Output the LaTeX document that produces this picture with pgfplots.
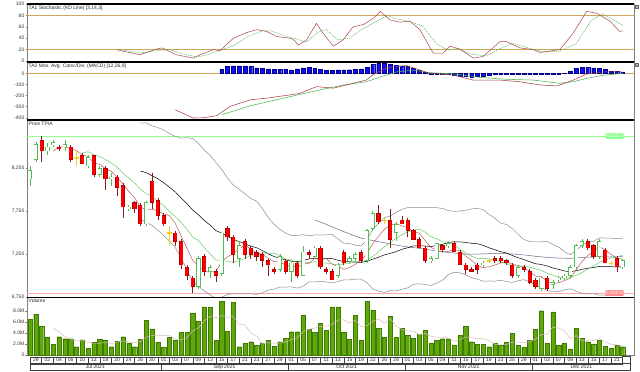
\documentclass[border=0pt]{standalone}
\usepackage{pgfplots}
\pgfplotsset{compat=1.18}
\usepackage{pgfplotstable}
\usepackage{fontspec}
\setmainfont{Liberation Sans}
\newcommand\tfont{\fontsize{5}{6}\selectfont}
\definecolor{cred}{HTML}{FF0000}
\definecolor{credb}{HTML}{B00000}
\definecolor{wred}{HTML}{8B1A1A}
\definecolor{cgrn}{HTML}{4FBF4F}
\definecolor{cyel}{HTML}{F2D01E}
\definecolor{ma5}{HTML}{B84A4A}
\definecolor{ma10}{HTML}{66CC66}
\definecolor{ma50}{HTML}{6B6B8C}
\definecolor{bb}{HTML}{8C8C8C}
\definecolor{lvl}{HTML}{D2A65A}
\definecolor{kline}{HTML}{A8454A}
\definecolor{dline}{HTML}{4DB84D}
\definecolor{hist}{HTML}{1010F0}
\definecolor{histb}{HTML}{000090}
\definecolor{vol}{HTML}{5FA80C}
\definecolor{volb}{HTML}{3E7A00}
\definecolor{volma}{HTML}{D9BDBD}
\definecolor{frame}{HTML}{7F7F7F}

\pgfplotstableread{
x o h l c
2 8575 8625 8325 8450
5 8500 8525 8450 8475
7 8500 8525 8325 8350
9 8400 8425 8300 8300
11 8400 8400 8150 8175
13 8250 8275 8000 8125
15 8150 8175 7925 8025
16 8050 8075 7675 7800
18 7850 7875 7725 7775
19 7825 7850 7575 7600
21 8100 8200 7775 7850
22 7875 7900 7650 7700
23 7700 7725 7575 7600
25 7500 7525 7350 7400
26 7400 7425 7075 7125
27 7100 7125 6950 7000
28 6975 7000 6800 6875
30 7225 7250 7000 7050
32 7050 7075 6925 7000
34 7550 7575 7400 7450
35 7450 7475 7150 7250
37 7400 7425 7200 7250
38 7325 7350 7200 7250
39 7275 7300 7175 7225
40 7250 7275 7100 7175
41 7175 7200 7000 7125
42 7075 7100 7025 7050
44 7175 7200 7025 7050
46 7150 7175 6975 7000
48 7275 7300 7200 7250
50 7325 7350 7075 7100
51 7075 7100 7025 7050
52 7050 7075 6950 6950
54 7275 7300 7125 7150
57 7275 7300 7150 7175
60 7725 7825 7600 7625
62 7650 7775 7325 7425
64 7650 7700 7600 7600
65 7650 7675 7450 7525
66 7525 7550 7425 7425
67 7425 7450 7325 7325
68 7325 7350 7150 7175
71 7350 7375 7275 7300
73 7375 7400 7275 7275
74 7275 7300 7125 7125
75 7125 7150 7025 7075
76 7075 7100 7050 7050
77 7125 7150 7025 7075
80 7200 7225 7150 7175
81 7200 7225 7150 7175
82 7175 7200 7125 7150
83 7125 7150 6975 7000
85 7100 7125 7050 7075
86 7050 7075 6900 6925
87 6950 6975 6850 6875
89 6975 7000 6825 6850
96 7400 7425 7300 7325
97 7350 7375 7200 7225
99 7300 7325 7150 7150
101 7200 7225 7050 7100
}\redc

\pgfplotstableread{
x o h l c
0 8125 8275 8050 8225
1 8350 8550 8325 8525
3 8450 8550 8400 8500
4 8525 8575 8500 8550
6 8500 8575 8450 8525
10 8275 8400 8250 8375
12 8175 8275 8150 8250
14 8125 8200 8050 8150
17 7775 7825 7750 7800
20 7600 7875 7575 7850
29 6875 7225 6850 7200
31 7050 7125 6975 7100
33 7025 7500 7000 7500
36 7200 7400 7100 7350
43 7075 7250 7050 7225
45 7050 7175 6925 7150
47 7000 7350 7000 7275
49 7225 7350 7200 7325
53 7000 7150 6975 7125
55 7175 7225 7150 7200
56 7200 7275 7175 7250
58 7175 7550 7150 7525
59 7550 7750 7525 7725
63 7500 7625 7400 7600
69 7175 7225 7150 7200
70 7200 7375 7200 7375
72 7350 7400 7325 7375
78 7125 7175 7100 7150
84 7000 7125 6975 7100
88 6850 7000 6825 6975
90 6900 6950 6850 6925
91 6950 7000 6925 6975
92 6975 7025 6950 7000
93 7000 7125 6975 7100
94 7100 7375 7075 7350
95 7350 7425 7325 7400
98 7225 7425 7200 7400
102 7100 7200 7075 7175
}\grnc

\pgfplotstableread{
x o h l c
8 8375 8450 8275 8375
24 7500 7575 7350 7500
61 7650 7675 7600 7650
79 7175 7200 7150 7175
100 7150 7175 7125 7150
}\dojc

\pgfplotstableread{
x m
4 8450
5 8500
6 8500
7 8480
8 8455
9 8405
10 8385
11 8315
12 8295
13 8245
14 8215
15 8145
16 8070
17 7980
18 7910
19 7800
20 7765
21 7775
22 7755
23 7720
24 7700
25 7610
26 7465
27 7325
28 7180
29 7120
30 7050
31 7045
32 7045
33 7170
34 7220
35 7260
36 7310
37 7360
38 7310
39 7265
40 7250
41 7205
42 7165
43 7160
44 7125
45 7120
46 7095
47 7140
48 7145
49 7200
50 7190
51 7200
52 7135
53 7110
54 7075
55 7095
56 7135
57 7180
58 7260
59 7375
60 7460
61 7540
62 7590
63 7605
64 7580
65 7560
66 7515
67 7495
68 7410
69 7330
70 7300
71 7275
72 7285
73 7305
74 7290
75 7230
76 7180
77 7120
78 7095
79 7105
80 7125
81 7150
82 7165
83 7135
84 7120
85 7100
86 7050
87 6995
88 6990
89 6940
90 6910
91 6920
92 6945
93 6970
94 7070
95 7165
96 7235
97 7280
98 7340
99 7300
100 7250
101 7205
102 7195
}\mafive

\pgfplotstableread{
x m
9 8428
10 8443
11 8408
12 8388
13 8350
14 8310
15 8265
16 8193
17 8138
18 8078
19 8008
20 7955
21 7923
22 7868
23 7815
24 7750
25 7688
26 7620
27 7540
28 7450
29 7410
30 7330
31 7255
32 7185
33 7175
34 7170
35 7155
36 7178
37 7203
38 7240
39 7243
40 7255
41 7258
42 7263
43 7235
44 7195
45 7185
46 7150
47 7153
48 7153
49 7163
50 7155
51 7148
52 7138
53 7128
54 7138
55 7143
56 7168
57 7158
58 7185
59 7225
60 7278
61 7338
62 7385
63 7433
64 7478
65 7510
66 7528
67 7543
68 7508
69 7455
70 7430
71 7395
72 7390
73 7358
74 7310
75 7265
76 7228
77 7203
78 7200
79 7198
80 7178
81 7165
82 7143
83 7115
84 7113
85 7113
86 7100
87 7080
88 7063
89 7030
90 7005
91 6985
92 6970
93 6980
94 7005
95 7038
96 7078
97 7113
98 7155
99 7185
100 7208
101 7220
102 7238
}\maten

\pgfplotstableread{
x m u l
19 8218 8775 7660
20 8199 8779 7619
21 8165 8743 7587
22 8128 8724 7531
23 8083 8696 7469
24 8030 8654 7406
25 7976 8622 7330
26 7906 8600 7212
27 7839 8606 7071
28 7764 8597 6930
29 7709 8539 6879
30 7643 8461 6825
31 7589 8401 6777
32 7526 8317 6735
33 7495 8237 6753
34 7460 8138 6782
35 7421 8053 6790
36 7399 8007 6791
37 7371 7953 6790
38 7345 7898 6792
39 7326 7869 6783
40 7293 7782 6803
41 7256 7678 6834
42 7224 7602 6846
43 7205 7541 6869
44 7183 7496 6869
45 7170 7468 6872
46 7164 7470 6857
47 7178 7478 6877
48 7196 7464 6929
49 7203 7476 6929
50 7205 7474 6936
51 7203 7476 6929
52 7200 7482 6918
53 7181 7428 6934
54 7166 7380 6952
55 7164 7375 6953
56 7159 7356 6961
57 7155 7348 6962
58 7169 7418 6919
59 7194 7542 6846
60 7216 7611 6821
61 7243 7678 6807
62 7261 7694 6829
63 7280 7737 6823
64 7308 7772 6844
65 7326 7794 6859
66 7348 7792 6903
67 7350 7793 6907
68 7346 7794 6899
69 7340 7792 6888
70 7354 7792 6915
71 7366 7783 6949
72 7388 7758 7017
73 7395 7750 7040
74 7394 7752 7035
75 7388 7763 7012
76 7378 7777 6978
77 7373 7784 6961
78 7354 7770 6937
79 7326 7713 6940
80 7304 7670 6938
81 7280 7613 6947
82 7266 7597 6935
83 7236 7549 6923
84 7211 7481 6942
85 7189 7423 6955
86 7164 7398 6930
87 7141 7395 6888
88 7131 7395 6868
89 7114 7402 6826
90 7091 7364 6819
91 7075 7334 6816
92 7056 7278 6835
93 7048 7246 6849
94 7059 7296 6822
95 7075 7355 6795
96 7089 7389 6789
97 7096 7402 6791
98 7109 7441 6776
99 7108 7439 6776
100 7106 7437 6776
101 7103 7432 6773
102 7104 7434 6774
}\matwenty

\pgfplotstableread{
x m
49 7650
51 7598
53 7541
55 7487
57 7438
59 7410
61 7384
63 7357
65 7336
67 7319
69 7299
71 7279
73 7266
75 7252
77 7252
79 7257
81 7261
83 7254
85 7243
87 7227
89 7214
91 7206
93 7203
95 7214
97 7219
99 7219
101 7221
102 7225
}\mafifty

\pgfplotstableread{
x v
0 6.44
1 7.4
2 5.2
3 3.2
4 1.9
5 3.3
6 2.95
7 2.95
8 1.5
9 2.77
10 1.2
11 2.3
12 2.8
13 2.6
14 1.5
15 2.5
16 3.3
17 2.2
18 1.5
19 2.8
20 6.3
21 4.7
22 2.3
23 1.4
24 3.2
25 2.6
26 4.15
27 4.15
28 7.6
29 6.1
30 8.7
31 8.6
32 2.6
33 9.7
34 4.3
35 9.5
36 1.5
37 2.1
38 2.4
39 1.8
40 2.2
41 2.7
42 1.6
43 2.4
44 3.0
45 4.2
46 4.2
47 7.2
48 4.6
49 4.1
50 5.7
51 4.5
52 8.6
53 8.7
54 4.15
55 2.8
56 7.2
57 2.7
58 9.7
59 8.1
60 4.8
61 3.2
62 7.0
63 3.2
64 4.8
65 3.5
66 3.0
67 3.7
68 4.5
69 2.2
70 2.7
71 2.95
72 2.95
73 1.7
74 3.5
75 5.2
76 2.4
77 1.9
78 1.9
79 1.5
80 2.1
81 1.7
82 2.3
83 3.9
84 1.7
85 1.4
86 2.7
87 4.6
88 8.0
89 2.1
90 7.8
91 1.8
92 2.1
93 1.1
94 4.8
95 3.0
96 2.4
97 2.0
98 2.6
99 1.6
100 1.2
101 1.7
102 1.5
}\volume

\pgfplotstableread{
x v
4 4.83
5 4.20
6 3.31
7 2.86
8 2.52
9 2.69
10 2.27
11 2.14
12 2.11
13 2.33
14 2.08
15 2.34
16 2.54
17 2.42
18 2.20
19 2.46
20 3.22
21 3.50
22 3.52
23 3.50
24 3.58
25 2.84
26 2.73
27 3.10
28 4.34
29 4.92
30 6.14
31 7.03
32 6.72
33 7.14
34 6.78
35 6.94
36 5.52
37 5.42
38 3.96
39 3.46
40 2.00
41 2.24
42 2.14
43 2.14
44 2.38
45 2.78
46 3.08
47 4.20
48 4.64
49 4.86
50 5.16
51 5.22
52 5.50
53 6.32
54 6.33
55 5.75
56 6.29
57 5.11
58 5.31
59 6.10
60 6.50
61 5.70
62 6.56
63 5.26
64 4.60
65 4.34
66 4.30
67 3.64
68 3.90
69 3.38
70 3.22
71 3.21
72 3.06
73 2.50
74 2.76
75 3.26
76 3.15
77 2.94
78 2.98
79 2.58
80 1.96
81 1.82
82 1.90
83 2.30
84 2.34
85 2.20
86 2.40
87 2.86
88 3.68
89 3.76
90 5.04
91 4.86
92 4.36
93 2.98
94 3.52
95 2.56
96 2.68
97 2.66
98 2.96
99 2.32
100 1.96
101 1.82
102 1.72
}\volma

\pgfplotstableread{
x k
14.9 19.8
18.9 11
21.8 21
22.7 23
25.2 11
28.1 5
29.3 11
31.6 20
32.7 18
35 40
37.3 50
39 55
40.7 52
42.5 43
44.7 40
45.3 38
46.2 28
47.6 37
49.3 66
50.2 52
52.2 26
53.9 37
55.6 60
57.4 64
59.1 75
60.3 87
62 72
63.7 68
65.4 70
67.1 55
69.4 14
71.1 14
72.3 26
74 21
76.3 5
78 8
80.9 34
82 34
84.3 23
86.6 20
87.8 15
91.2 20
93.5 49
95.8 87
97.5 84
99.8 70
101.5 52
102.1 53
}\stochk

\pgfplotstableread{
x d
15.5 20
19 14
22.5 19
24 20
26 13
28.8 7
30.5 11
32.5 18
35 27
37.5 43
40 53
41.5 53
43.5 45
45.5 40
47.5 33
49.8 52
51 55
53 37
55 40
57 55
59 66
61.5 80
63 74
65 70
67.5 62
70 30
72 19
73.5 22
76 12
78.5 9
81 22
83 31
85 25
88 17
91 17
94 30
96.5 70
98.5 83
100.5 72
102.1 62
}\stochd

\pgfplotstableread{
x m
25 -329
28.1 -403
30 -400
32.1 -382
34.4 -299
37.9 -239
40.7 -224
44.7 -195
46.5 -180
49.3 -120
52.2 -134
55.6 -90
57.9 -60
59.1 -10
61.4 50
64.8 70
67.1 29
68.8 0
72.9 -16
76.3 -61
80.9 -61
84.3 -76
87.8 -105
90.7 -114
93.5 -61
95.8 -7
98.7 13
102.1 13
}\macdl

\pgfplotstableread{
x s
33 -373
37.9 -293
43.6 -224
49.9 -150
54 -105
57.9 -76
60.5 -30
63.1 13
66 29
68.8 6
72.9 -5
77.5 -37
82 -54
86.6 -61
91.2 -90
93.5 -76
95.8 -46
98.7 -17
102.1 0
}\macds

\pgfplotstableread{
x h
33 35
34 62
35 66
36 68
37 68
38 62
39 50
40 42
41 40
42 38
43 38
44 36
45 30
46 40
47 50
48 52
49 45
50 35
51 28
52 28
53 30
54 30
55 32
56 35
57 40
58 55
59 78
60 88
61 90
62 78
63 70
64 68
65 60
66 45
67 30
68 8
69 -10
70 -10
71 -12
72 -12
73 -15
74 -25
75 -30
76 -32
77 -30
78 -25
79 -20
80 -8
81 -8
82 -8
83 -8
84 -10
85 -12
86 -10
87 -8
88 -10
89 -12
90 -10
91 -8
92 -3
93 15
94 45
95 55
96 52
97 48
98 45
99 38
100 20
101 15
102 10
}\macdh

\tikzset{ptitle/.style={anchor=north west, font=\tfont, inner sep=1.5pt, text=black!85}}
\pgfplotsset{
  panel/.style={scale only axis, width=607pt, xmin=-0.516, xmax=103.96,
    axis line style={draw=frame, line width=0.5pt},
    xtick=\empty, ytick pos=left, tick align=outside,
    major tick length=1.5pt, tick style={draw=frame, line width=0.4pt},
    yticklabel style={font=\tfont, text=black!80, inner sep=1pt},
    clip mode=individual},
  wick/.style={only marks, mark=*, mark size=0pt,
    mark options={draw opacity=0, fill opacity=0}, forget plot,
    error bars/.cd, y dir=both, y explicit, error mark=none,
    error bar style={draw=#1, line width=0.6pt}},
  body/.style 2 args={only marks, mark=*, mark size=0pt,
    mark options={draw opacity=0, fill opacity=0}, forget plot,
    error bars/.cd, y dir=both, y explicit, error mark=none,
    error bar style={draw=#1, line width=#2}},
}

\begin{document}
\begin{tikzpicture}
\path[use as bounding box, fill=white] (0pt,0pt) rectangle (640pt,-372pt);

% ---------------- Stochastic
\begin{axis}[panel, at={(27pt,-4pt)}, anchor=north west, height=57.7pt,
  ymin=-1.2, ymax=100, ytick={0,20,40,60,80,100}, yticklabels={0,20,40,60,80,100}]
\addplot[lvl, line width=0.6pt] coordinates {(-1,80) (105,80)};
\addplot[lvl, line width=0.6pt] coordinates {(-1,20) (105,20)};
\addplot[dline, line width=0.5pt, dash pattern=on 1.2pt off 0.9pt] table[x=x,y=d] {\stochd};
\addplot[kline, line width=0.5pt] table[x=x,y=k] {\stochk};
\node[ptitle] at (rel axis cs:0,1) {TA1 Stochastic (KD Line) [3,14,3]};
\end{axis}

% ---------------- MACD
\begin{axis}[panel, at={(27pt,-62pt)}, anchor=north west, height=58pt,
  ymin=-420.7, ymax=101.8, ytick={-400,-300,-200,-100,0},
  yticklabels={-400,-300,-200,-100,0}]
\addplot[lvl, line width=0.6pt] coordinates {(-1,0) (105,0)};
\addplot[ybar, bar width=3.8pt, fill=hist, draw=histb, line width=0.3pt] table[x=x,y=h] {\macdh};
\addplot[dline, line width=0.55pt] table[x=x,y=s] {\macds};
\addplot[kline, line width=0.55pt] table[x=x,y=m] {\macdl};
\node[ptitle] at (rel axis cs:0,1) {TA2 Mov. Avg. Conv./Div. (MACD) [12,26,9]};
\end{axis}

% ---------------- Price
\begin{axis}[panel, at={(27pt,-120pt)}, anchor=north west, height=177.3pt,
  ymin=6750, ymax=8811.6, ytick={6750,7250,7750,8250},
  yticklabels={{6,750},{7,250},{7,750},{8,250}}]
\addplot[color=green!45!white, line width=0.5pt] coordinates {(-1,8625) (105,8625)};
\addplot[color=red!35!white, line width=0.8pt] coordinates {(-1,6800) (105,6800)};
\addplot[bb, line width=0.5pt] table[x=x,y=u] {\matwenty};
\addplot[bb, line width=0.5pt] table[x=x,y=l] {\matwenty};
\addplot[ma50, line width=0.5pt] table[x=x,y=m] {\mafifty};
\addplot[black, line width=0.5pt] table[x=x,y=m] {\matwenty};
\addplot[ma10, line width=0.5pt] table[x=x,y=m] {\maten};
\addplot[ma5, line width=0.45pt] table[x=x,y=m] {\mafive};
% wicks
\addplot[wick=wred] table[x=x, y expr={(\thisrow{h}+\thisrow{l})/2}, y error expr={(\thisrow{h}-\thisrow{l})/2}] {\redc};
\addplot[wick=cgrn] table[x=x, y expr={(\thisrow{h}+\thisrow{l})/2}, y error expr={(\thisrow{h}-\thisrow{l})/2}] {\grnc};
\addplot[wick=cyel] table[x=x, y expr={(\thisrow{h}+\thisrow{l})/2}, y error expr={(\thisrow{h}-\thisrow{l})/2}] {\dojc};
% bodies
\addplot[body={credb}{4.2pt}] table[x=x, y expr={(\thisrow{o}+\thisrow{c})/2}, y error expr={(\thisrow{o}-\thisrow{c})/2+3}] {\redc};
\addplot[body={cred}{3.0pt}] table[x=x, y expr={(\thisrow{o}+\thisrow{c})/2}, y error expr={(\thisrow{o}-\thisrow{c})/2-4}] {\redc};
\addplot[body={cgrn}{4.2pt}] table[x=x, y expr={(\thisrow{o}+\thisrow{c})/2}, y error expr={(\thisrow{c}-\thisrow{o})/2+3}] {\grnc};
\addplot[body={white}{3.0pt}] table[x=x, y expr={(\thisrow{o}+\thisrow{c})/2}, y error expr={(\thisrow{c}-\thisrow{o})/2-4}] {\grnc};
\addplot[body={cyel}{4.2pt}] table[x=x, y expr={\thisrow{c}}, y error expr={4}] {\dojc};
\node[fill=green!45!white, text=white, font=\tfont, inner sep=0.8pt, rounded corners=0.6pt] at (axis cs:100.6,8625) {8,625.0};
\node[fill=red!45!white, text=white, font=\tfont, inner sep=0.8pt, rounded corners=0.6pt] at (axis cs:100.6,6800) {6,800.0};
\node[ptitle] at (rel axis cs:0,1) {Price TPIA};
\end{axis}

% ---------------- Volume
\begin{axis}[panel, at={(27pt,-297.3pt)}, anchor=north west, height=57.7pt,
  ymin=0, ymax=10.42, ytick={0,2,4,6,8},
  yticklabels={0,2.0M,4.0M,6.0M,8.0M},
  xtick={1,3,...,101},
  xticklabels={29,02,04,06,10,13,18,20,24,26,30,01,03,07,09,13,15,17,21,23,27,29,01,05,07,11,13,15,19,22,26,28,01,03,05,09,11,15,17,19,23,25,29,01,03,07,09,13,15,17,21},
  xtick style={draw=none},
  xticklabel style={font=\tfont, draw=black!75, line width=0.3pt, minimum width=11.62pt,
    minimum height=7pt, inner sep=0pt, anchor=north, text=black!85}]
\addplot[ybar, bar width=4.2pt, fill=vol, draw=volb, line width=0.3pt] table[x=x,y=v] {\volume};
\addplot[volma, line width=0.5pt] table[x=x,y=v] {\volma};
\node[ptitle] at (rel axis cs:0,1) {Volume};
\draw[black!75, line width=0.3pt] ([yshift=-8.5pt]axis cs:0,0) rectangle ([yshift=-15.5pt]axis cs:103.3,0);
\draw[black!75, line width=0.3pt] ([yshift=-1.5pt]axis cs:102,0) rectangle ([yshift=-8.5pt]axis cs:103.3,0);
\pgfplotsinvokeforeach{22.5,44.5,64.5,86.5}{
  \draw[black!75, line width=0.3pt] ([yshift=-8.5pt]axis cs:#1,0) -- ([yshift=-15.5pt]axis cs:#1,0);
}
\node[font=\tfont, text=black!85] at ([yshift=-12pt]axis cs:11.25,0) {Jul 2021};
\node[font=\tfont, text=black!85] at ([yshift=-12pt]axis cs:33.5,0) {Sep 2021};
\node[font=\tfont, text=black!85] at ([yshift=-12pt]axis cs:54.5,0) {Oct 2021};
\node[font=\tfont, text=black!85] at ([yshift=-12pt]axis cs:75.5,0) {Nov 2021};
\node[font=\tfont, text=black!85] at ([yshift=-12pt]axis cs:94.9,0) {Dec 2021};
\end{axis}

% panel top rules
\foreach \yy in {4,62,120,297.3} {
  \draw[black, line width=1.1pt] (27pt,-\yy pt) -- (634pt,-\yy pt);
}
% small panel icons at the right
\foreach \yy in {5.5,63.5} {
  \draw[black!60, line width=0.3pt] (635.5pt,-\yy pt) rectangle (638.5pt,-\yy pt-3pt);
  \draw[black!60, line width=0.3pt] (635.5pt,-\yy pt) -- (638.5pt,-\yy pt-3pt);
  \draw[black!60, line width=0.3pt] (635.5pt,-\yy pt-3pt) -- (638.5pt,-\yy pt);
}
\end{tikzpicture}
\end{document}
